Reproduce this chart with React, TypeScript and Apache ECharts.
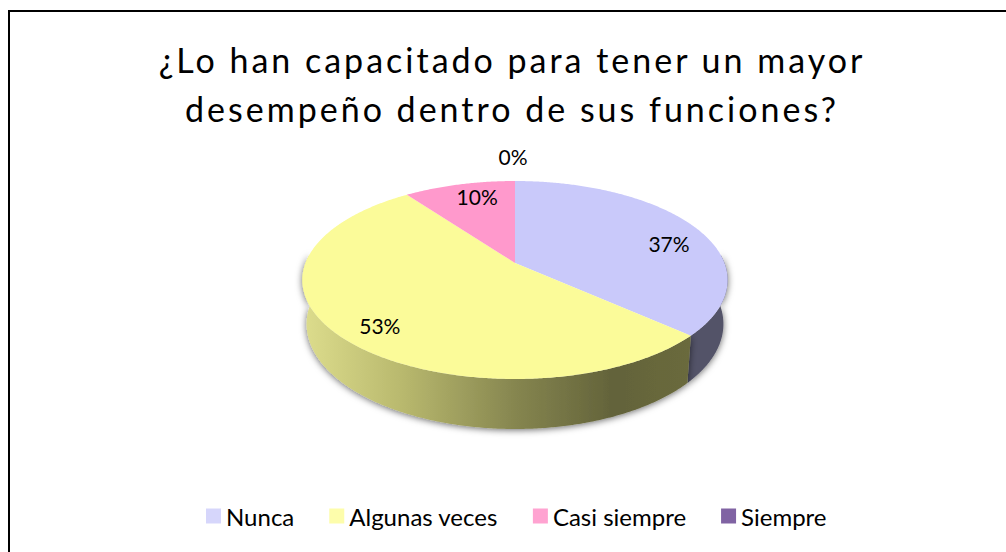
import React, { useEffect, useRef } from "react";
import * as echarts from "echarts";

const titleLines = ["¿Lo han capacitado para tener un mayor", "desempeño dentro de sus funciones?"];
const categories = ["Nunca", "Algunas veces", "Casi siempre", "Siempre"];
const values = [11, 16, 3, 0];
const topColors = ["#c9c9fa", "#fbfb99", "#ff99cc", "#8064a2"];
const legendColors = ["#d6d6fb", "#fdfdab", "#ffa3d1", "#8063a3"];

// layout of the tilted disc
const CX = 515, CY = 263, RX = 209.5, RY = 96.08, K = 0.1717;
const labelLayout = [
  { r: 0.8, dx: 9, dy: 10 },
  { r: 0.8, dx: 2, dy: 6 },
  { r: 0.8, dx: 8, dy: -2 },
  { r: 1.3, dx: -2, dy: -4 },
];

function topPoint(deg: number, r = 1) {
  const t = (deg * Math.PI) / 180;
  const X = r * Math.sin(t), Y = r * Math.cos(t);
  const w = 1 + K * Y;
  return [CX + (RX * X) / w, CY - (RY * Y) / w];
}
function lowPoint(deg: number) {
  const [x, y] = topPoint(deg);
  return [CX + (x - CX) * 0.98, y + 44 + (6 * (y - 280)) / 99];
}
function arc(a: number, b: number, fn: (d: number) => number[]) {
  const n = Math.max(2, Math.ceil(b - a) * 2);
  const out: number[][] = [];
  for (let i = 0; i <= n; i++) out.push(fn(a + ((b - a) * i) / n));
  return out;
}

const total = values.reduce((s, v) => s + v, 0);
const wallFills: any[] = [
  "#535368",
  {
    type: "linear", x: 305, y: 0, x2: 690, y2: 0, global: true,
    colorStops: [
      { offset: 0, color: "#dcdc8c" },
      { offset: 0.25, color: "#b9b96e" },
      { offset: 0.55, color: "#85854f" },
      { offset: 0.8, color: "#63633a" },
      { offset: 1, color: "#6a6a3c" },
    ],
  },
  "#7f4d66",
  "#40324f",
];

function sliceRenderer(index: number) {
  return (_params: any, api: any) => {
    const v = api.value(0);
    const before = values.slice(0, index).reduce((s, x) => s + x, 0);
    const a = (before / total) * 360;
    const b = a + (v / total) * 360;
    const children: any[] = [];
    if (v > 0) {
      const wa = Math.max(a, 85), wb = Math.min(b, 275);
      if (wb > wa) {
        children.push({
          type: "polygon",
          z2: 1,
          shape: { points: [...arc(wa, wb, topPoint), ...arc(wa, wb, lowPoint).reverse()] },
          style: { fill: wallFills[index], shadowBlur: 7, shadowColor: "rgba(0,0,0,0.6)", shadowOffsetY: 1 },
        });
      }
      children.push({
        type: "polygon",
        z2: 10,
        shape: { points: [[CX, CY], ...arc(a, b, topPoint)] },
        style: { fill: topColors[index] },
      });
    }
    const mid = (a + b) / 2;
    const l = labelLayout[index];
    const [lx, ly] = topPoint(mid, l.r);
    children.push({
      type: "text",
      z2: 20,
      style: {
        text: `${Math.round((v / total) * 100)}%`, x: lx + l.dx, y: ly + l.dy,
        font: "21px Lato", fill: "#000", align: "center", verticalAlign: "middle",
      },
    });
    return { type: "group", children };
  };
}

export default function App() {
  const ref = useRef<HTMLDivElement>(null);
  useEffect(() => {
    const chart = echarts.init(ref.current!, undefined, { renderer: "svg" });
    chart.setOption({
      animation: false,
      backgroundColor: "#fff",
      title: {
        text: titleLines.join("\n"),
        left: 512,
        top: 35,
        textAlign: "center",
        padding: 0,
        textStyle: { fontFamily: "Lato", fontSize: 34, fontWeight: "normal", color: "#000", lineHeight: 49 },
      },
      legend: {
        left: 206,
        top: 504,
        padding: 0,
        icon: "rect",
        itemWidth: 15,
        itemHeight: 15,
        itemGap: 35,
        data: categories,
        textStyle: { fontFamily: "Lato", fontSize: 24, color: "#000" },
      },
      graphic: [
        { type: "rect", shape: { x: 8, y: 10, width: 998, height: 2 }, style: { fill: "#000" } },
        { type: "rect", shape: { x: 8, y: 10, width: 2, height: 542 }, style: { fill: "#000" } },
      ],
      series: categories.map((name, i) => ({
        type: "custom",
        name,
        coordinateSystem: "none",
        itemStyle: { color: legendColors[i] },
        data: [[values[i]]],
        renderItem: sliceRenderer(i),
      })),
    });
    return () => chart.dispose();
  }, []);
  return (
    <>
      <style>{`text[style*="34px"]{letter-spacing:3px}`}</style>
      <div ref={ref} style={{ position: "fixed", left: 0, top: 0, width: 1006, height: 552 }} />
    </>
  );
}
